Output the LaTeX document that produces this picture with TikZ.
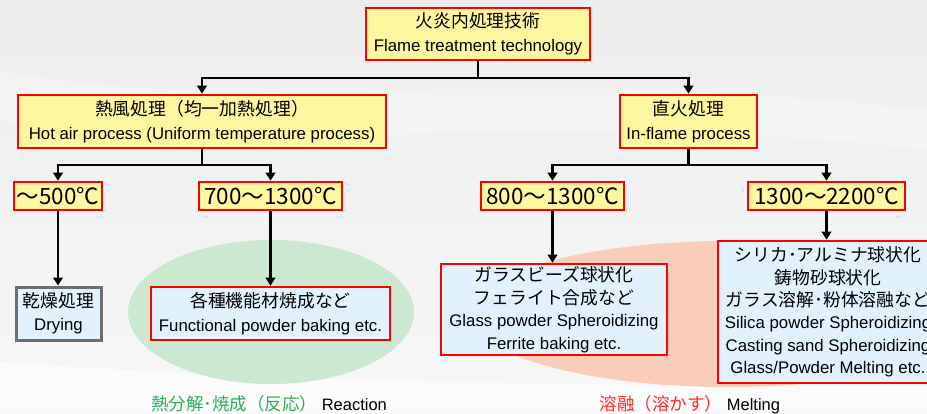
\documentclass[tikz,border=0pt]{standalone}
\usepackage{fontspec}
\setmainfont{Liberation Sans}
\newfontfamily\jp[Scale=1.06]{Noto Sans CJK JP}
\usetikzlibrary{arrows.meta}
\definecolor{boxyellow}{HTML}{FFF7A0}
\definecolor{boxblue}{HTML}{E1F2FD}
\definecolor{boxred}{HTML}{FF0000}
\definecolor{greenell}{HTML}{CDE8D1}
\definecolor{salmonell}{HTML}{F9CDBA}
\definecolor{greentext}{HTML}{2EAD5B}
\definecolor{redtext}{HTML}{FF2A2A}
\definecolor{graybd}{HTML}{6E6E6E}
\begin{document}
\begin{tikzpicture}[x=1pt,y=-1pt,
  box/.style={draw=boxred, line width=2.6pt, inner sep=0pt, align=center,
    font=\fontsize{16.8}{23.5}\selectfont},
  ybox/.style={box, fill=boxyellow},
  bbox/.style={box, fill=boxblue},
  tbox/.style={draw=boxred, fill=boxyellow, line width=2.6pt, inner sep=0pt,
    minimum height=28pt, font=\jp\fontsize{21.2}{24}\selectfont},
  conn/.style={line width=2.6pt, black},
  arr/.style={conn, -{Triangle[width=9.5pt,length=8pt]}},
  lbl/.style={inner sep=0pt, font=\fontsize{16.5}{20}\selectfont}
]
\useasboundingbox (0,0) rectangle (927,413);
% background
\shade[top color=gray!14, bottom color=gray!6] (0,0) rectangle (927,413);
\fill[white, opacity=0.3] (0,70) .. controls (250,120) and (500,60) .. (927,110)
  -- (927,150) .. controls (500,100) and (250,170) .. (0,120) -- cycle;
\fill[white, opacity=0.6] (0,362) .. controls (200,376) and (420,386) .. (927,388)
  -- (927,413) -- (0,413) -- cycle;
% ellipses
\fill[greenell] (271,312) ellipse [x radius=143, y radius=72];
\fill[salmonell] (728,314) ellipse [x radius=258, y radius=73];

% boxes
\node[ybox, minimum width=224pt, minimum height=52pt] (top) at (478,34)
  {{\jp 火炎内処理技術}\\Flame treatment technology};
\node[ybox, minimum width=368pt, minimum height=53pt] (hot) at (202,121.5)
  {{\jp 熱風処理（均一加熱処理）}\\Hot air process (Uniform temperature process)};
\node[ybox, minimum width=137pt, minimum height=53pt] (fire) at (688.5,121.5)
  {{\jp 直火処理}\\In-flame process};

\node[tbox, minimum width=88pt] (t1) at (58,196) {～500℃};
\node[tbox, minimum width=143pt] (t2) at (270.5,196) {700～1300℃};
\node[tbox, minimum width=143pt] (t3) at (552.5,196) {800～1300℃};
\node[tbox, minimum width=157pt] (t4) at (826.5,196) {1300～2200℃};

\node[bbox, draw=graybd, line width=3pt, minimum width=85pt, minimum height=53pt] (dry) at (58.5,313.5)
  {{\jp 乾燥処理}\\Drying};
\node[bbox, minimum width=239pt, minimum height=53pt] (func) at (270.5,313.5)
  {{\jp 各種機能材焼成など}\\Functional powder baking etc.};
\node[bbox, minimum width=226pt, minimum height=91pt, font=\fontsize{16.8}{22.5}\selectfont] (glass) at (554,309.5)
  {{\jp ガラスビーズ球状化}\\{\jp フェライト合成など}\\Glass powder Spheroidizing\\Ferrite baking etc.};
\node[bbox, minimum width=220pt, minimum height=142pt, font=\fontsize{16.8}{22.4}\selectfont] (silica) at (828,312)
  {{\jp シリカ･アルミナ球状化}\\{\jp 鋳物砂球状化}\\{\jp ガラス溶解･粉体溶融など}\\Silica powder Spheroidizing\\Casting sand Spheroidizing\\Glass/Powder Melting etc.};

% connectors
\coordinate (j1) at (478,78);
\coordinate (j2) at (202,165);
\coordinate (j3) at (688.5,165);
\draw[conn] (top.south) -- (j1);
\draw[arr] (j1) -| (hot.north);
\draw[arr] (j1) -| (fire.north);
\draw[conn] (hot.south) -- (j2);
\draw[arr] (j2) -| (t1.north);
\draw[arr] (j2) -| (t2.north);
\draw[conn] (fire.south) -- (j3);
\draw[arr] (j3) -| (t3.north);
\draw[arr] (j3) -| (t4.north);
\draw[arr] (t1.south) -- (t1.south |- dry.north);
\draw[arr] (t2.south) -- (t2.south |- func.north);
\draw[arr] (t3.south) -- (t3.south |- glass.north);
\draw[arr] (t4.south) -- (t4.south |- silica.north);

% labels
\node[lbl, anchor=base] (reaction) at (269,410)
  {{\jp\color{greentext}熱分解･焼成（反応）} Reaction};
\node[lbl, anchor=base] (melting) at (690,410)
  {{\jp\color{redtext}溶融（溶かす）} Melting};
\end{tikzpicture}
\end{document}
